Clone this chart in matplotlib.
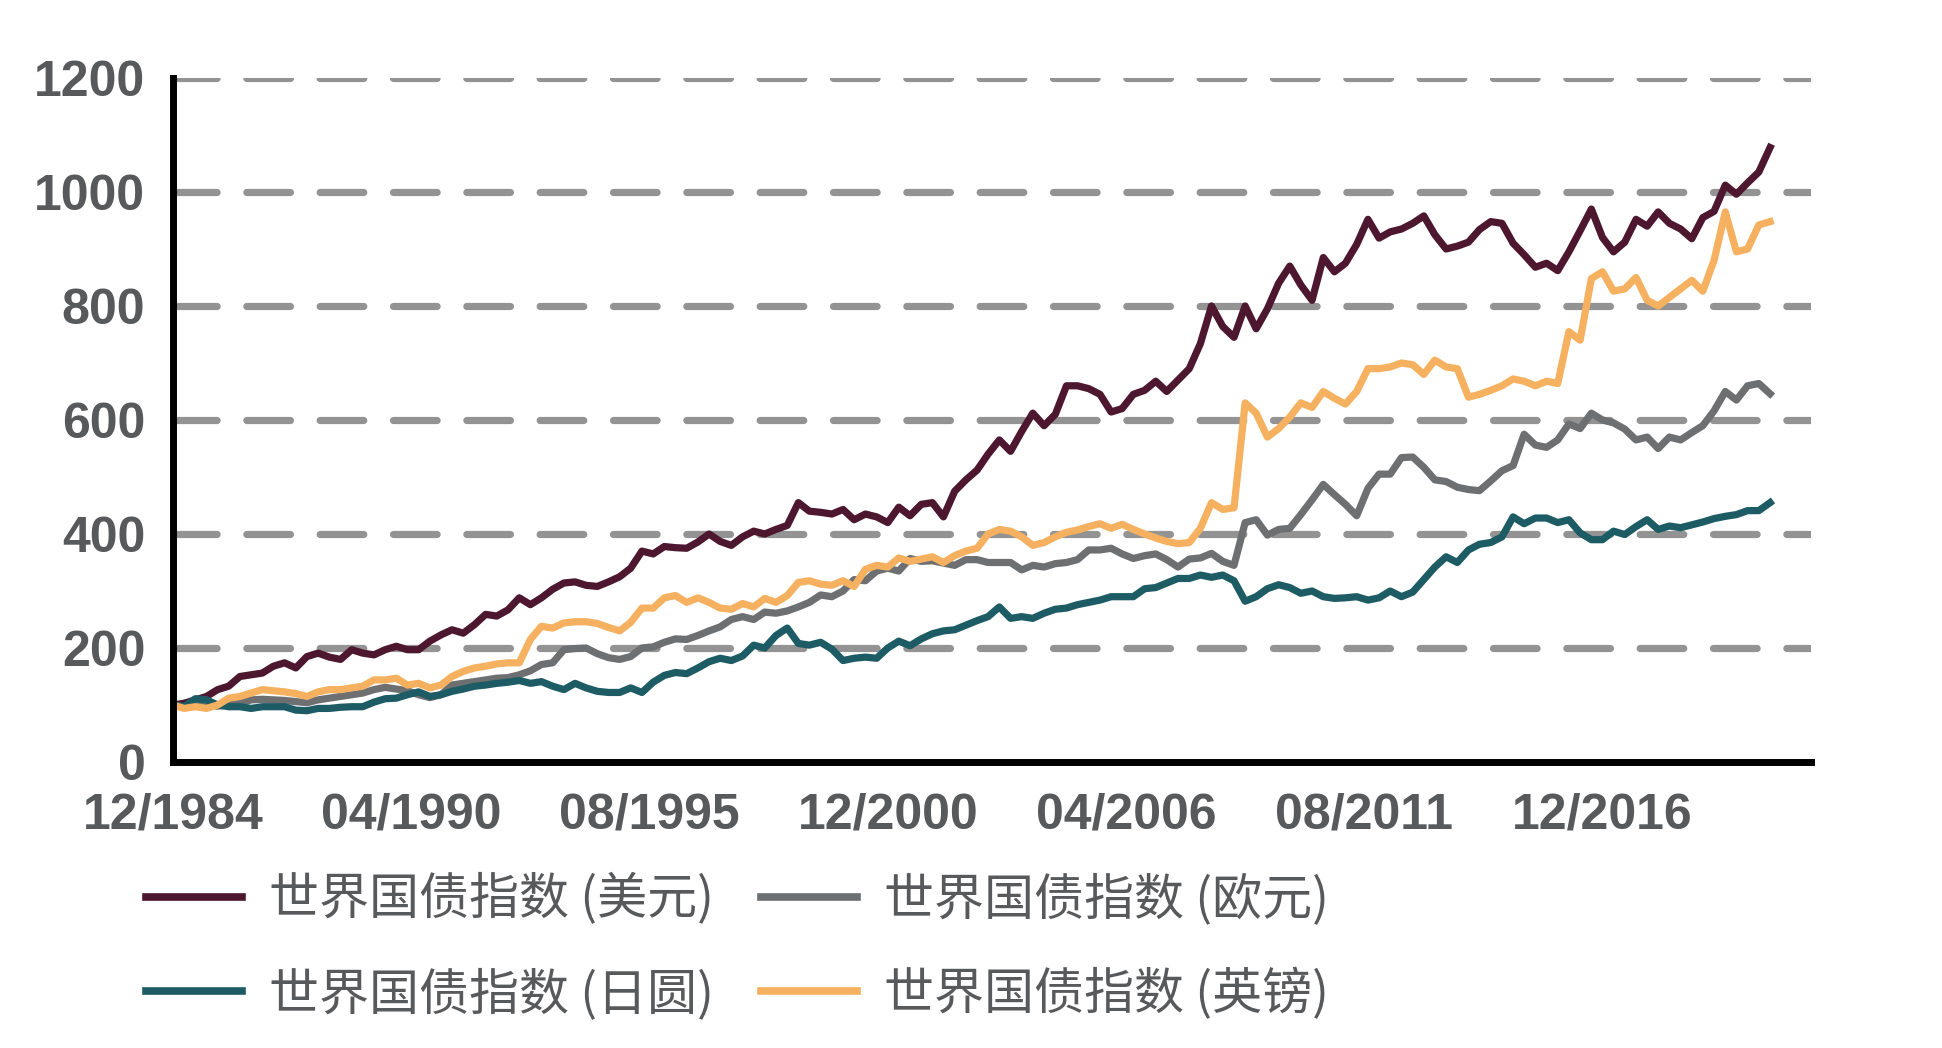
import matplotlib
matplotlib.use("Agg")
import matplotlib.pyplot as plt
from matplotlib.font_manager import FontProperties
import pandas as pd

plt.rcParams["font.family"] = ["Liberation Sans", "Noto Sans CJK SC", "DejaVu Sans"]
plt.rcParams["lines.scale_dashes"] = False

# quarterly readings, 12/1984 .. 09/2020
dates = pd.date_range("1984-12-01", "2020-09-01", freq="3MS")

usd = [100, 103, 109, 115, 127, 133, 150, 153, 156, 168, 174, 165, 185, 191, 184, 180, 197, 191, 188, 197,
       203, 197, 197, 212, 223, 232, 226, 241, 259, 256, 267, 288, 276, 288, 303, 314,
       316, 310, 308, 316, 325, 340, 370, 365, 378, 376, 375, 386, 400, 387, 380, 395, 405, 400, 408, 415,
       455, 440, 438, 435, 443, 425, 435, 430, 420, 447, 432, 452, 455, 430, 475,
       495, 512, 540, 565, 545, 580, 612, 590, 610, 660, 660, 655, 645, 614, 620, 645, 652, 668, 650, 670,
       690, 734, 800, 764, 745, 800, 760, 795, 840, 870, 837, 810, 885, 860, 875, 908, 952, 919,
       930, 935, 945, 958, 925, 900, 905, 912, 934, 948, 945, 910, 890, 868, 875, 862, 895, 932, 970, 920,
       895, 912, 952, 940, 965, 945, 935, 918, 955, 966, 1012, 996, 1016, 1035, 1078]

eur = [100, 97, 100, 100, 98, 100, 103, 109, 110, 109, 108, 106, 104, 109, 112, 115, 118, 121, 127, 131,
       128, 125, 118, 113, 118, 135, 138, 141, 144, 147, 148, 153, 160, 171, 174, 197,
       199, 200, 190, 183, 180, 185, 200, 202, 210, 216, 215, 222, 230, 237, 250, 255, 250, 263, 261, 265,
       272, 280, 293, 290, 300, 320, 318, 335, 340, 335, 357, 352, 353, 349, 345,
       355, 355, 350, 350, 350, 337, 345, 342, 348, 350, 355, 372, 372, 375, 365, 357, 362, 365, 355, 342,
       356, 358, 366, 352, 345, 420, 425, 398, 408, 410, 434, 460, 487, 469, 452, 432, 480, 505,
       505, 534, 535, 517, 495, 492, 482, 478, 476, 493, 511, 520, 575, 556, 552, 565, 593, 585, 612, 600,
       595, 584, 565, 570, 550, 570, 565, 578, 590, 616, 650, 635, 660, 664, 646]

jpy = [100, 97, 111, 109, 100, 97, 97, 94, 97, 97, 97, 91, 90, 94, 94, 96, 97, 97, 105, 111,
       112, 118, 123, 115, 118, 124, 128, 133, 135, 138, 140, 143, 138, 141, 133, 127,
       138, 130, 124, 122, 122, 130, 122, 140, 152, 157, 155, 165, 176, 182, 178, 186, 205, 200, 222, 235,
       208, 205, 210, 198, 178, 182, 184, 182, 200, 212, 204, 216, 225, 230, 232,
       240, 248, 255, 272, 252, 255, 252, 261, 268, 270, 276, 280, 284, 290, 290, 290, 304, 306, 314, 322,
       322, 328, 324, 328, 318, 282, 290, 304, 311, 306, 296, 300, 290, 287,
       288, 290, 284, 288, 300, 290, 298, 320, 342, 360, 350, 372, 382, 385, 395, 430, 418, 428, 428, 420,
       425, 402, 390, 390, 405, 399, 413, 425, 408, 414, 411, 416, 421, 427, 431, 434, 441, 441, 455]

gbp = [100, 94, 97, 94, 100, 112, 115, 121, 127, 125, 123, 120, 115, 123, 127, 127, 130, 133, 144, 144,
       147, 135, 138, 130, 135, 150, 159, 165, 168, 172, 174, 174, 215, 238, 235, 244,
       246, 246, 243, 236, 230, 245, 270, 270, 288, 292, 280, 288, 280, 270, 268, 278, 272, 287, 280, 292,
       315, 318, 312, 310, 318, 308, 338, 345, 342, 358, 352, 356, 360, 350, 362,
       370, 375, 400, 408, 405, 395, 380, 385, 395, 403, 407, 413, 418, 410, 417, 408, 400, 393, 387, 383,
       385, 410, 455, 443, 446, 630, 612, 570, 585, 605, 630, 622, 650, 638, 628, 650, 690, 690,
       693, 700, 697, 680, 705, 693, 690, 640, 645, 652, 660, 672, 668, 660, 668, 664, 755, 740, 848, 860,
       826, 830, 850, 810, 800, 815, 830, 845, 826, 880, 965, 895, 900, 942, 948]

labels = ["世界国债指数 (美元)", "世界国债指数 (欧元)", "世界国债指数 (日圆)", "世界国债指数 (英镑)"]
colors = ["#4d1730", "#6d6f71", "#1d5c64", "#f5b160"]

tick_dates = ["1984-12-01", "1990-04-01", "1995-08-01", "2000-12-01",
              "2006-04-01", "2011-08-01", "2016-12-01"]
tick_labels = ["12/1984", "04/1990", "08/1995", "12/2000", "04/2006", "08/2011", "12/2016"]
y_ticks = [0, 200, 400, 600, 800, 1000, 1200]

txt = "#58595b"

fig = plt.figure(figsize=(19.42, 10.48), dpi=100)
ax = fig.add_axes([0.0891, 0.2729, 0.8434, 0.6527])

lines = {}
for name, vals, lab, col in zip(["usd", "eur", "jpy", "gbp"], [usd, eur, jpy, gbp], labels, colors):
    lines[name], = ax.plot(dates, vals, color=col, lw=5.2, label=lab,
                           solid_joinstyle="round", zorder=3)

ax.set_ylim(0, 1200)
ax.set_xlim(pd.Timestamp("1984-12-01"), pd.Timestamp("2021-08-01"))
ax.set_yticks(y_ticks)
ax.set_xticks(pd.to_datetime(tick_dates))
ax.set_xticklabels(tick_labels)

# dashed grid, round caps
for y in y_ticks[1:]:
    ax.axhline(y, color="#939393", lw=5.2, linestyle=(0, (31.4, 21.4)),
               dash_capstyle="round", zorder=1)

for s in ["top", "right"]:
    ax.spines[s].set_visible(False)
for s in ["left", "bottom"]:
    ax.spines[s].set_linewidth(5)
    ax.spines[s].set_color("black")
    ax.spines[s].set_zorder(4)

ax.tick_params(axis="both", length=0, labelsize=36, labelcolor=txt)
ax.tick_params(axis="y", pad=20)
ax.tick_params(axis="x", pad=22)
for t in ax.get_xticklabels() + ax.get_yticklabels():
    t.set_fontweight("bold")

handles = [lines["usd"], lines["jpy"], lines["eur"], lines["gbp"]]
leg = fig.legend(handles, [h.get_label() for h in handles], ncol=2,
                 loc="center left", bbox_to_anchor=(0.0752, 0.0959),
                 frameon=False, borderpad=0, borderaxespad=0,
                 prop=FontProperties(family=["Noto Sans CJK SC", "DejaVu Sans"], size=36),
                 labelcolor=txt, handlelength=1.92, handletextpad=0.54,
                 columnspacing=0.94, labelspacing=0.85)
for l in leg.get_lines():
    l.set_linewidth(5.5)

fig.savefig("out.png", dpi=100, facecolor="white")
